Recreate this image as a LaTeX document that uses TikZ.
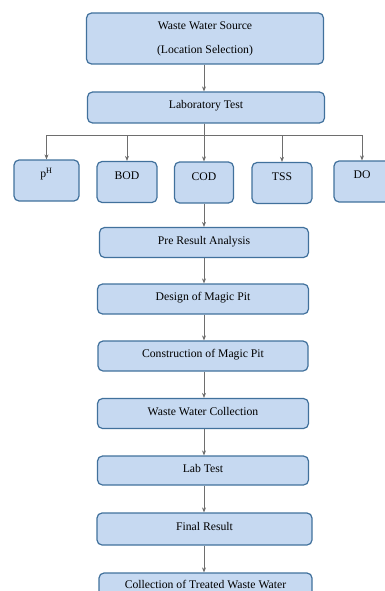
\documentclass[tikz,border=0pt]{standalone}
\usepackage{fontspec}
\setmainfont{Liberation Serif}
\usetikzlibrary{arrows.meta}

\definecolor{boxfill}{RGB}{198,217,241}
\definecolor{boxline}{RGB}{65,113,156}
\definecolor{arrowgray}{RGB}{110,110,110}

\begin{document}
\begin{tikzpicture}[x = 1pt, y = -1pt,
	every node/.style = {font = \fontsize{11.7}{14}\selectfont},
	stepbox/.style = {draw = boxline, fill = boxfill, line width = 1.2pt, rounded corners = 5pt, minimum width = 211pt, minimum height = 30pt, text height = 8pt, text depth = 5pt, inner sep = 0pt},
	testbox/.style = {stepbox, minimum width = 60pt, minimum height = 41pt, text height = 8pt, text depth = 13pt},
	arr/.style = {draw = arrowgray, line width = 0.8pt, -{Stealth[length = 5pt, width = 4pt]}}]
	\useasboundingbox (0, 0) rectangle (385, 591);
	
	\node[stepbox, minimum width = 237pt, minimum height = 51pt, align = center, text height = , text depth = ] (src) at (205, 38.5) {Waste Water Source\\[10pt](Location Selection)};
	\node[stepbox, minimum width = 237pt, minimum height = 31pt] (lab) at (206, 107.5) {Laboratory Test};
	
	\node[testbox, minimum width = 65pt, text depth = 14pt] (ph) at (46.5, 180.5) {p\textsuperscript{H}};
	\node[testbox] (bod) at (127, 182) {BOD};
	\node[testbox, minimum width = 59pt] (cod) at (204, 182.5) {COD};
	\node[testbox] (tss) at (282, 183) {TSS};
	\node[testbox, minimum width = 56pt, text depth = 14pt] (do) at (362, 181.5) {DO};
	
	\node[stepbox, minimum width = 209pt] (pre) at (204, 242.5) {Pre Result Analysis};
	\node[stepbox] (design) at (203, 299) {Design of Magic Pit};
	\node[stepbox, minimum width = 210pt] (constr) at (203, 356) {Construction of Magic Pit};
	\node[stepbox] (coll) at (203, 413.5) {Waste Water Collection};
	\node[stepbox, minimum height = 29pt] (labtest) at (203, 470.5) {Lab Test};
	\node[stepbox, minimum width = 215pt, minimum height = 32pt] (final) at (204.5, 529) {Final Result};
	\node[stepbox, minimum width = 213pt, minimum height = 36pt, text depth = 14pt] (treated) at (205.5, 591) {Collection of Treated Waste Water};
	
	\draw[arr] (src.south -| cod) -- (lab.north -| cod);
	\draw[arr] (lab.south -| cod) -- (cod.north);
	\foreach \t in {ph, bod, tss, do}
		\draw[arr] (lab.south -| cod) -- ++(0, 12) -| (\t.north);
	
	\draw[arr] (cod.south) -- (pre.north -| cod);
	\draw[arr] (pre.south -| cod) -- (design.north -| cod);
	\draw[arr] (design.south -| cod) -- (constr.north -| cod);
	\draw[arr] (constr.south -| cod) -- (coll.north -| cod);
	\draw[arr] (coll.south -| cod) -- (labtest.north -| cod);
	\draw[arr] (labtest.south -| cod) -- (final.north -| cod);
	\draw[arr] (final.south -| cod) -- (treated.north -| cod);
\end{tikzpicture}
\end{document}
